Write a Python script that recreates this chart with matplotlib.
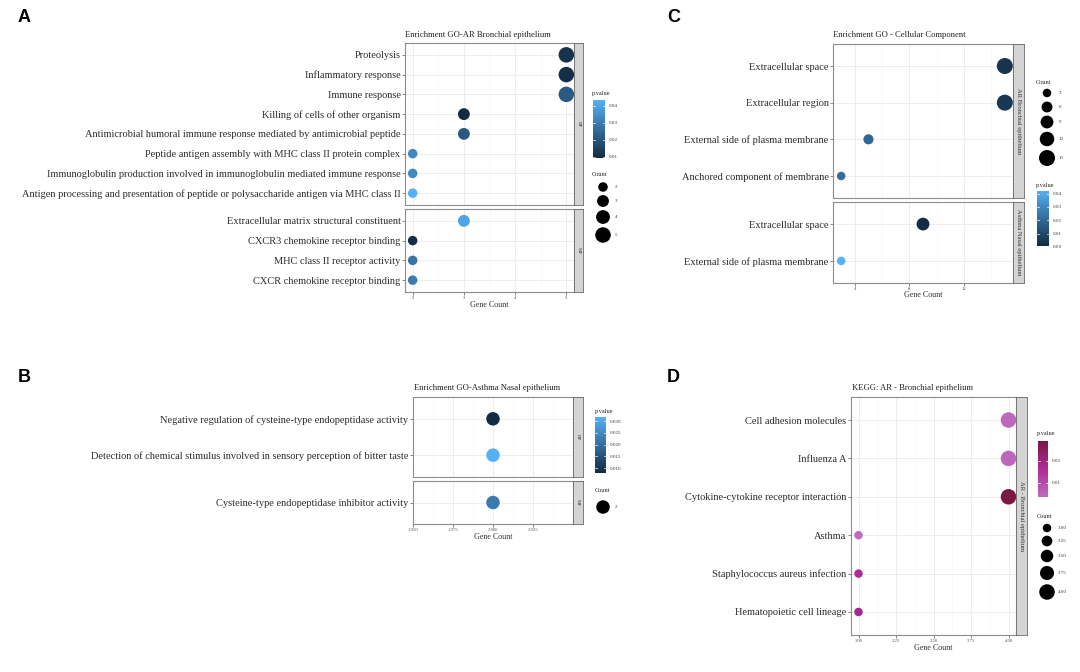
import matplotlib
matplotlib.use('Agg')
import matplotlib.pyplot as plt
from matplotlib.colors import LinearSegmentedColormap, Normalize
import numpy as np

# ---------------- data ----------------
# Panel A : GO - AR Bronchial epithelium
a_bp_terms = ["Proteolysis", "Inflammatory response", "Immune response",
              "Killing of cells of other organism",
              "Antimicrobial humoral immune response mediated by antimicrobial peptide",
              "Peptide antigen assembly with MHC class II protein complex",
              "Immunoglobulin production involved in immunoglobulin mediated immune response",
              "Antigen processing and presentation of peptide or polysaccharide antigen via MHC class II"]
a_bp_count = [5, 5, 5, 3, 3, 2, 2, 2]
a_bp_p = [0.011, 0.010, 0.021, 0.0093, 0.021, 0.033, 0.033, 0.043]
a_mf_terms = ["Extracellular matrix structural constituent", "CXCR3 chemokine receptor binding",
              "MHC class II receptor activity", "CXCR chemokine receptor binding"]
a_mf_count = [3, 2, 2, 2]
a_mf_p = [0.040, 0.010, 0.028, 0.030]
a_xticks = [2, 3, 4, 5]
a_pticks = [0.01, 0.02, 0.03, 0.04]
a_count_keys = [2, 3, 4, 5]

# Panel B : GO - Asthma Nasal epithelium
b_bp_terms = ["Negative regulation of cysteine-type endopeptidase activity",
              "Detection of chemical stimulus involved in sensory perception of bitter taste"]
b_bp_count = [2, 2]
b_bp_p = [0.0080, 0.0316]
b_mf_terms = ["Cysteine-type endopeptidase inhibitor activity"]
b_mf_count = [2]
b_mf_p = [0.022]
b_xticks = [1.950, 1.975, 2.000, 2.025]
b_pticks = [0.010, 0.015, 0.020, 0.025, 0.030]
b_count_keys = [2]

# Panel C : GO - Cellular Component
c_ar_terms = ["Extracellular space", "Extracellular region",
              "External side of plasma membrane", "Anchored component of membrane"]
c_ar_count = [15, 15, 5, 3]
c_ar_p = [0.003, 0.004, 0.019, 0.021]
c_as_terms = ["Extracellular space", "External side of plasma membrane"]
c_as_count = [9, 3]
c_as_p = [0.001, 0.042]
c_xticks = [4, 8, 12]
c_pticks = [0.00, 0.01, 0.02, 0.03, 0.04]
c_count_keys = [3, 6, 9, 12, 15]

# Panel D : KEGG - AR Bronchial epithelium
d_terms = ["Cell adhesion molecules", "Influenza A", "Cytokine-cytokine receptor interaction",
           "Asthma", "Staphylococcus aureus infection", "Hematopoietic cell lineage"]
d_count = [4, 4, 4, 3, 3, 3]
d_p = [0.0045, 0.0048, 0.0290, 0.0040, 0.0160, 0.0180]
d_xticks = [3.00, 3.25, 3.50, 3.75, 4.00]
d_pticks = [0.01, 0.02]
d_count_keys = [3.00, 3.25, 3.50, 3.75, 4.00]

# ---------------- style ----------------
W, H = 1080, 672
FONT = 'Liberation Serif'
LAB_FS = 7.5
TITLE_FS = 6.2
TICK_FS = 3.4
LEG_FS = 3.6
LEGT_FS = 4.5
AXT_FS = 5.8

fig = plt.figure(figsize=(W / 100, H / 100), dpi=100)
fig.patch.set_facecolor('white')

blue_cmap = LinearSegmentedColormap.from_list('ggblue', ['#132B43', '#56B1F7'])
pink_cmap = LinearSegmentedColormap.from_list('ggpink', ['#BF6DBF', '#AE2A9A', '#7B1843'])


def px_axes(x0, y0, x1, y1):
    return fig.add_axes([x0 / W, 1 - y1 / H, (x1 - x0) / W, (y1 - y0) / H])


def diam_fn(cmin, cmax, dmin, dmax):
    def f(c):
        c = np.asarray(c, dtype=float)
        if cmax == cmin:
            return np.full(c.shape, dmax)
        t = (c - cmin) / (cmax - cmin)
        return np.sqrt(dmin ** 2 + (dmax ** 2 - dmin ** 2) * t)
    return f


def ftext(x, y, s, **kw):
    kw.setdefault('family', FONT)
    fig.text(x / W, 1 - y / H, s, **kw)


def add_facet(box, terms, counts, pvals, xlim, xticks, xticklabels, minor, cmap, norm,
              diam, strip, strip_w, show_x, strip_fs):
    x0, y0, x1, y1 = box
    ax = px_axes(x0, y0, x1, y1)
    n = len(terms)
    ys = np.arange(n)
    ax.set_xlim(*xlim)
    ax.set_ylim(n - 1 + 0.6, -0.6)
    ax.set_yticks(ys)
    ax.set_yticklabels(terms, fontsize=LAB_FS, family=FONT, color='#2b2b2b')
    ax.set_xticks(xticks)
    ax.set_xticks(minor, minor=True)
    ax.grid(which='major', color='#EAEAEA', lw=0.6)
    ax.grid(which='minor', axis='x', color='#F3F3F3', lw=0.4)
    ax.set_axisbelow(True)
    ax.tick_params(axis='both', which='major', length=2.2, width=0.5, color='#555555', pad=1)
    ax.tick_params(which='minor', length=0)
    if show_x:
        ax.set_xticklabels(xticklabels, fontsize=TICK_FS, family=FONT, color='#555555')
    else:
        ax.tick_params(axis='x', labelbottom=False, length=0)
    sizes = (diam(counts) * 0.72) ** 2
    ax.scatter(counts, ys, s=sizes, c=pvals, cmap=cmap, norm=norm,
               edgecolors='none', zorder=3, clip_on=False)
    for s in ax.spines.values():
        s.set_color('#8C8C8C')
        s.set_linewidth(0.8)
    sax = px_axes(x1, y0, x1 + strip_w, y1)
    sax.set_facecolor('#D4D4D4')
    sax.set_xticks([])
    sax.set_yticks([])
    for s in sax.spines.values():
        s.set_color('#666666')
        s.set_linewidth(0.6)
    sax.text(0.5, 0.5, strip, rotation=-90, ha='center', va='center', fontsize=strip_fs,
             family=FONT, color='#333333', transform=sax.transAxes)
    return ax


def add_colorbar(box, cmap, vmin, vmax, ticks, ticklabels, title, title_xy):
    x0, y0, x1, y1 = box
    cax = px_axes(x0, y0, x1, y1)
    grad = np.linspace(vmin, vmax, 256).reshape(-1, 1)
    cax.imshow(grad, aspect='auto', cmap=cmap, norm=Normalize(vmin, vmax), origin='lower',
               extent=[0, 1, vmin, vmax], interpolation='bilinear')
    cax.set_xlim(0, 1)
    cax.set_ylim(vmin, vmax)
    cax.set_xticks([])
    cax.yaxis.tick_right()
    cax.set_yticks(ticks)
    cax.set_yticklabels(ticklabels, fontsize=LEG_FS, family=FONT, color='#333333')
    cax.tick_params(axis='y', length=0, pad=3)
    for s in cax.spines.values():
        s.set_visible(False)
    for t in ticks:
        cax.plot([0, 0.2], [t, t], color='white', lw=0.5)
        cax.plot([0.8, 1], [t, t], color='white', lw=0.5)
    ftext(title_xy[0], title_xy[1], title, fontsize=LEGT_FS, color='#222222', va='center', ha='left')


overlay = fig.add_axes([0, 0, 1, 1])
overlay.set_xlim(0, W)
overlay.set_ylim(H, 0)
overlay.axis('off')


def add_size_legend(keys, labels, diam, x_dot, ys_px, label_x, title, title_xy):
    d = diam(keys)
    overlay.scatter([x_dot] * len(keys), ys_px, s=(d * 0.72) ** 2, c='black', edgecolors='none')
    for lab, yy in zip(labels, ys_px):
        overlay.text(label_x, yy, lab, fontsize=LEG_FS, family=FONT, color='#333333',
                     va='center', ha='left')
    overlay.text(title_xy[0], title_xy[1], title, fontsize=LEGT_FS, family=FONT,
                 color='#222222', va='center', ha='left')


# ---------------- Panel A ----------------
a_norm = Normalize(0.0092, 0.0434)
a_diam = diam_fn(2, 5, 9.5, 15.5)
a_xlim = (1.85, 5.15)
a_minor = [2.5, 3.5, 4.5]
add_facet((405, 43, 574, 205), a_bp_terms, a_bp_count, a_bp_p, a_xlim, a_xticks,
          [str(v) for v in a_xticks], a_minor, blue_cmap, a_norm, a_diam, 'BP', 9, False, 3.6)
add_facet((405, 209, 574, 292), a_mf_terms, a_mf_count, a_mf_p, a_xlim, a_xticks,
          [str(v) for v in a_xticks], a_minor, blue_cmap, a_norm, a_diam, 'MF', 9, True, 3.6)
ftext(405, 35, 'Enrichment GO-AR Bronchial epithelium', fontsize=TITLE_FS, color='#222222',
      va='center', ha='left')
ftext(489, 305, 'Gene Count', fontsize=AXT_FS, color='#333333', va='center', ha='center')
add_colorbar((593, 100, 605, 158), blue_cmap, 0.0092, 0.0434, a_pticks,
             ['%.2f' % v for v in a_pticks], 'p.value', (592, 93))
add_size_legend(a_count_keys, [str(v) for v in a_count_keys], a_diam, 603,
                [187, 201, 217, 235], 615, 'Count', (592, 175))

# ---------------- Panel B ----------------
b_norm = Normalize(0.0079, 0.0317)
b_diam = diam_fn(2, 2, 13.5, 13.5)
b_xlim = (1.95, 2.05)
b_minor = [1.9625, 1.9875, 2.0125, 2.0375]
add_facet((413, 397, 573, 477), b_bp_terms, b_bp_count, b_bp_p, b_xlim, b_xticks,
          ['%.3f' % v for v in b_xticks], b_minor, blue_cmap, b_norm, b_diam, 'BP', 10, False, 3.6)
add_facet((413, 481, 573, 524), b_mf_terms, b_mf_count, b_mf_p, b_xlim, b_xticks,
          ['%.3f' % v for v in b_xticks], b_minor, blue_cmap, b_norm, b_diam, 'MF', 10, True, 3.6)
ftext(414, 388, 'Enrichment GO-Asthma Nasal epithelium', fontsize=TITLE_FS, color='#222222',
      va='center', ha='left')
ftext(493, 537, 'Gene Count', fontsize=AXT_FS, color='#333333', va='center', ha='center')
add_colorbar((595, 417, 606, 473), blue_cmap, 0.0079, 0.0317, b_pticks,
             ['%.3f' % v for v in b_pticks], 'p.value', (595, 411))
add_size_legend(b_count_keys, [str(v) for v in b_count_keys], b_diam, 603,
                [507], 615, 'Count', (595, 491))

# ---------------- Panel C ----------------
c_norm = Normalize(0.0005, 0.042)
c_diam = diam_fn(3, 15, 8.5, 16.0)
c_xlim = (2.4, 15.6)
c_minor = [6, 10, 14]
add_facet((833, 44, 1013, 198), c_ar_terms, c_ar_count, c_ar_p, c_xlim, c_xticks,
          [str(v) for v in c_xticks], c_minor, blue_cmap, c_norm, c_diam,
          'AR Bronchial epithelium', 11, False, 4.7)
add_facet((833, 202, 1013, 283), c_as_terms, c_as_count, c_as_p, c_xlim, c_xticks,
          [str(v) for v in c_xticks], c_minor, blue_cmap, c_norm, c_diam,
          'Asthma Nasal epithelium', 11, True, 4.7)
ftext(833, 35, 'Enrichment GO - Cellular Component', fontsize=TITLE_FS, color='#222222',
      va='center', ha='left')
ftext(923, 295, 'Gene Count', fontsize=AXT_FS, color='#333333', va='center', ha='center')
add_size_legend(c_count_keys, [str(v) for v in c_count_keys], c_diam, 1047,
                [93, 107, 122, 139, 158], 1059, 'Count', (1036, 82))
add_colorbar((1037, 191, 1049, 247), blue_cmap, 0.0005, 0.042, c_pticks,
             ['%.2f' % v for v in c_pticks], 'p.value', (1036, 185))

# ---------------- Panel D ----------------
d_norm = Normalize(0.0036, 0.029)
d_diam = diam_fn(3, 4, 8.5, 15.5)
d_xlim = (2.95, 4.05)
d_minor = [3.125, 3.375, 3.625, 3.875]
add_facet((851, 397, 1016, 635), d_terms, d_count, d_p, d_xlim, d_xticks,
          ['%.2f' % v for v in d_xticks], d_minor, pink_cmap, d_norm, d_diam,
          'AR - Bronchial epithelium', 11, True, 4.7)
ftext(852, 388, 'KEGG: AR - Bronchial epithelium', fontsize=TITLE_FS, color='#222222',
      va='center', ha='left')
ftext(933, 648, 'Gene Count', fontsize=AXT_FS, color='#333333', va='center', ha='center')
add_colorbar((1038, 441, 1048, 497), pink_cmap, 0.0036, 0.029, d_pticks,
             ['%.2f' % v for v in d_pticks], 'p.value', (1037, 434))
add_size_legend(d_count_keys, ['%.2f' % v for v in d_count_keys], d_diam, 1047,
                [528, 541, 556, 573, 592], 1058, 'Count', (1037, 516))

# ---------------- panel letters ----------------
for letter, (lx, ly) in zip(['A', 'B', 'C', 'D'], [(18, 18), (18, 378), (667, 18), (667, 378)]):
    ftext(lx, ly, letter, fontsize=13, fontweight='bold', family='Liberation Sans',
          color='black', va='center', ha='left')

fig.savefig('out.png', dpi=100, facecolor='white')
